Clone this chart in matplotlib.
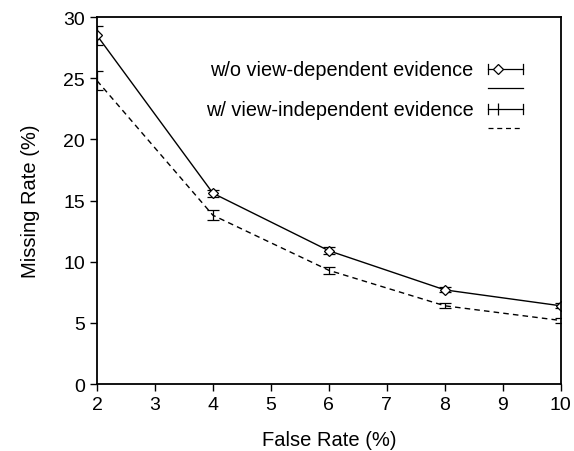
import matplotlib as mpl
mpl.use('Agg')
import matplotlib.pyplot as plt
from matplotlib.lines import Line2D

mpl.rcParams['font.family'] = ['Liberation Sans', 'DejaVu Sans']
mpl.rcParams['xtick.labelsize'] = 14
mpl.rcParams['ytick.labelsize'] = 14
mpl.rcParams['axes.labelsize'] = 14.5

# data
false_rate = [2, 4, 6, 8, 10]
miss_wo = [28.5, 15.6, 10.9, 7.7, 6.4]
err_wo = [0.8, 0.3, 0.3, 0.2, 0.2]
miss_w = [24.8, 13.8, 9.3, 6.4, 5.2]
err_w = [0.8, 0.4, 0.3, 0.2, 0.2]

label_wo = 'w/o view-dependent evidence'
label_w = 'w/ view-independent evidence'

fig = plt.figure(figsize=[5.74, 4.52], dpi=100)
ax = fig.add_axes([0.169, 0.148, 0.808, 0.812])

ax.errorbar(false_rate, miss_wo, yerr=err_wo, color='k', linewidth=1,
            marker='D', markersize=5.5, markerfacecolor='white',
            markeredgewidth=0.9, capsize=4, elinewidth=0.9, capthick=0.9)
ax.errorbar(false_rate, miss_w, yerr=err_w, color='k', linewidth=1,
            linestyle=(0, (4, 3)), capsize=4, elinewidth=0.9, capthick=0.9)

ax.set_xlim(2, 10)
ax.set_ylim(0, 30)
ax.set_xticks(range(2, 11))
ax.set_yticks(range(0, 31, 5))
ax.tick_params(direction='out', length=5, width=1, top=False, right=False)
for sp in ax.spines.values():
    sp.set_linewidth(1.3)

ax.set_xlabel('False Rate (%)', labelpad=12)
ax.set_ylabel('Missing Rate (%)', labelpad=17)

# gnuplot-style key: text on the left, samples on the right
tr = ax.transAxes
x0, x1 = 0.842, 0.919
for i, (lab, ls, mk) in enumerate([(label_wo, '-', 'D'), (label_w, (0, (4, 3)), None)]):
    yt = 0.858 - i * 0.109
    yl = yt - 0.051
    ax.text(0.812, yt, lab, transform=tr, ha='right', va='center', fontsize=14.3)
    ax.add_line(Line2D([x0, x1], [yt, yt], transform=tr, color='k', lw=0.9))
    ax.add_line(Line2D([x0, x0], [yt - 0.014, yt + 0.014], transform=tr, color='k', lw=0.9))
    ax.add_line(Line2D([x1, x1], [yt - 0.014, yt + 0.014], transform=tr, color='k', lw=0.9))
    if mk:
        ax.add_line(Line2D([0.865], [yt], transform=tr, marker=mk, markersize=5.5,
                           markerfacecolor='white', markeredgecolor='k', markeredgewidth=0.9))
    else:
        ax.add_line(Line2D([0.865], [yt], transform=tr, marker='|', markersize=8,
                           color='k', markeredgewidth=0.9))
    ax.add_line(Line2D([x0, x1], [yl, yl], transform=tr, color='k', lw=0.9, linestyle=ls))

fig.savefig('out.png', dpi=100)
